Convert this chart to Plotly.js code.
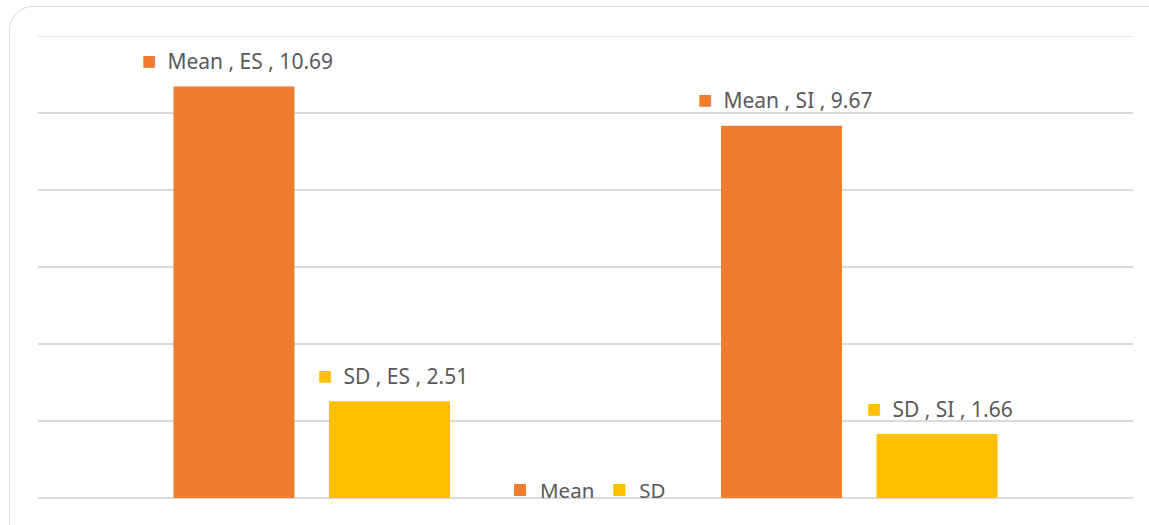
<!DOCTYPE html>
<html>
<head>
<meta charset="utf-8">
<script src="https://cdn.plot.ly/plotly-3.0.1.min.js"></script>
<style>
  html, body { margin:0; padding:0; background:#fff; overflow:hidden; }
  #frame { position:absolute; left:9px; top:6px; width:1170px; height:560px; border:1.5px solid #D9D9D9; border-radius:24px; box-sizing:border-box; }
  #chart { position:absolute; left:0; top:0; width:1149px; height:525px; }
</style>
</head>
<body>
<div id="frame"></div>
<div id="chart"></div>
<script>
const categories = ["ES", "SI"];
const meanValues = [10.69, 9.67];
const sdValues = [2.51, 1.66];
const seriesNames = ["Mean", "SD"];
const seriesColors = ["#ED7D31", "#FFC000"];
const seriesValues = [meanValues, sdValues];

const BARGAP = 0.432;
const BARGROUPGAP = 0.222;

const data = seriesNames.map((name, j) => ({
  type: "bar",
  name: name,
  x: categories,
  y: seriesValues[j],
  marker: { color: seriesColors[j] },
  hoverinfo: "none"
}));

// data labels centred over each bar of the group (offset derived from bargap)
const slot = (1 - BARGAP) / seriesNames.length;
const annotations = [];
seriesNames.forEach((name, j) => {
  categories.forEach((cat, i) => {
    annotations.push({
      xref: "x", yref: "y",
      x: i + (j - (seriesNames.length - 1) / 2) * slot,
      y: seriesValues[j][i],
      yshift: 27, xshift: 3,
      xanchor: "center", yanchor: "middle",
      showarrow: false,
      text: "<span style='color:" + seriesColors[j] + ";font-size:24px'>■</span>  " + name + " , " + cat + " , " + seriesValues[j][i],
      font: { family: "Noto Sans, sans-serif", size: 21, color: "#595959" }
    });
  });
});

const layout = {
  width: 1149,
  height: 525,
  margin: { l: 38, r: 16, t: 36, b: 27 },
  paper_bgcolor: "rgba(0,0,0,0)",
  plot_bgcolor: "rgba(0,0,0,0)",
  barmode: "group",
  bargap: BARGAP,
  bargroupgap: BARGROUPGAP,
  font: { family: "Noto Sans, sans-serif", color: "#595959", size: 16 },
  xaxis: { showticklabels: false, showgrid: false, zeroline: false, showline: false, ticks: "" },
  yaxis: { range: [0, 12], dtick: 2, showticklabels: false, showgrid: true, gridcolor: "#D9D9D9", gridwidth: 1.3, zeroline: true, zerolinecolor: "#D9D9D9", zerolinewidth: 1.3, ticks: "" },
  shapes: [
    { type: "line", xref: "paper", yref: "y", x0: 0, x1: 1, y0: 12, y1: 12, line: { color: "#D9D9D9", width: 1.3 }, layer: "below" }
  ],
  annotations: annotations,
  showlegend: true,
  legend: { orientation: "h", x: 0.5, xanchor: "center", y: 0.017, yanchor: "middle", font: { size: 20.5, color: "#595959" }, bgcolor: "rgba(0,0,0,0)", itemwidth: 30, traceorder: "normal" }
};

Plotly.newPlot("chart", data, layout, { displayModeBar: false, staticPlot: true });
</script>
</body>
</html>
